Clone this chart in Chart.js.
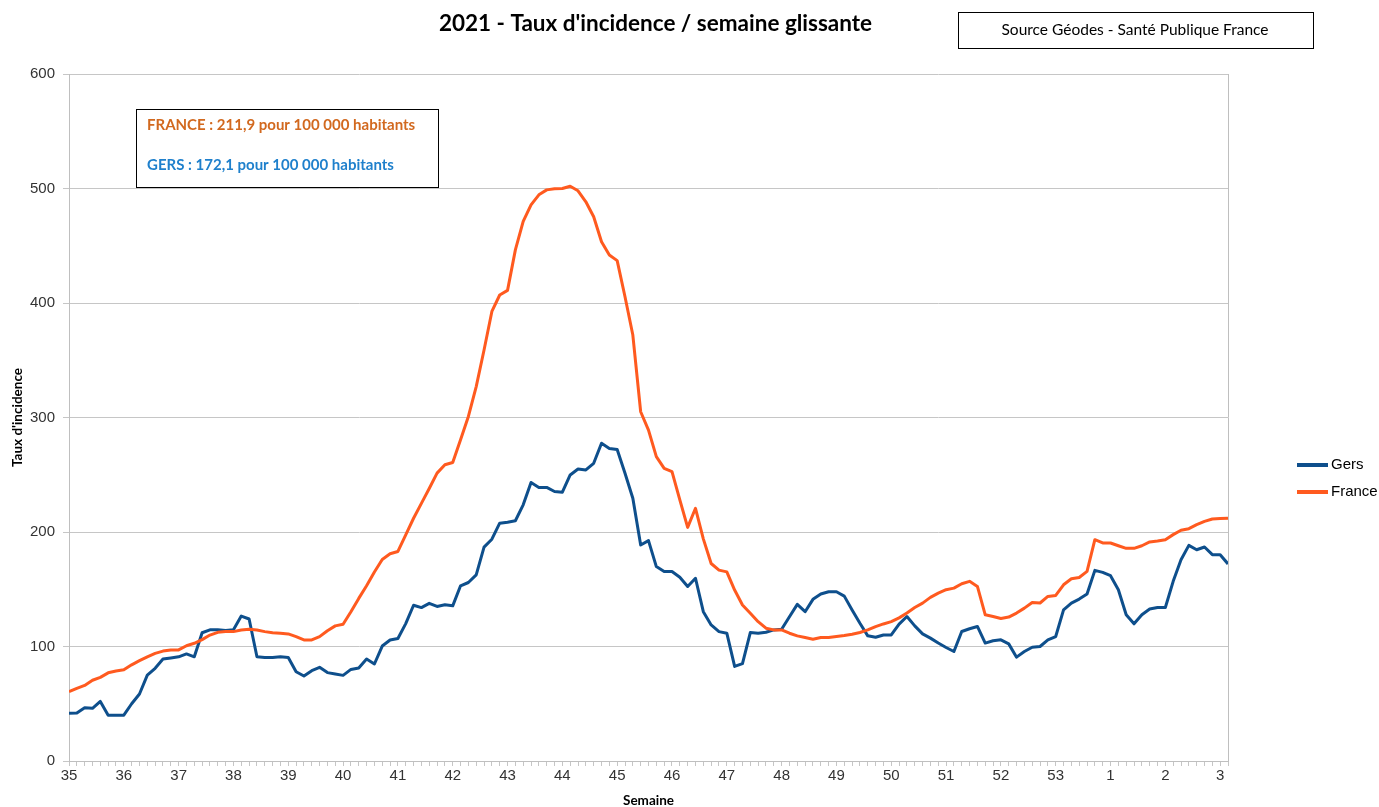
<!DOCTYPE html>
<html><head><meta charset="utf-8">
<script src="https://cdn.jsdelivr.net/npm/chart.js@4"></script>
<style>html,body{margin:0;padding:0;background:#fff;} #wrap{width:1379px;height:807px;}</style>
</head><body><div id="wrap"><canvas id="c" width="1379" height="807"></canvas></div>
<script>
const weekLabels = ['35','36','37','38','39','40','41','42','43','44','45','46','47','48','49','50','51','52','53','1','2','3'];
const seriesNames = ['Gers', 'France'];
const gers = [
 41.6,42,46.6,46,52,40,40, 40,50,58.5,75,81,89,90, 91,93.5,91,112,114.6,114.6,114, 114.6,126.6,124,91,90.4,90.4,91,
 90.4,78,74.2,78.9,81.8,77.2,76, 74.8,80,81.2,89,84.7,100.4,105.7, 107,120,136,134,137.7,135,136.4,
 135.5,153,155.9,162.6,186.8,193.7,207.7, 208.6,209.8,223.7,243.2,238.9,238.9,235.4, 234.8,249.8,255,254.2,260,277.5,273,
 272,251.3,229.5,188.7,192.5,169.8,165.5, 165.5,160.5,152.4,159.6,130.4,118.8,113, 111.6,82.6,85,112.2,111.6,112.5,114.5,
 115,126,136.8,130.4,141.2,145.8,147.8, 147.8,144,131.9,120.3,109.3,108.1,110.1, 110.1,119.5,126.2,118,111,107.3,103,
 99.1,95.6,113.1,115.5,117.5,103,105, 105.8,102.3,90.7,95.6,99.4,100,105.8, 108.7,132,137.9,141.4,145.8,166.5,164.7,
 161.8,149.6,127.7,119.8,127.7,132.7,134.1, 134.1,156.9,175.8,188.3,184.5,186.9,180.2, 180.2,172.1
];
const france = [
 60.5,63.5,66,70.5,73,77,78.6, 79.6,84,87.6,91,94,96,97, 97,100.7,102.8,106,110,112.4,113, 113,114.4,115,114.4,113,112,111.5,
 111,108.6,105.7,105.7,108.6,113.8,118, 119.4,130.4,142,153,165,176,181, 183,197.5,212,225,238,251.4,258.7,
 260.7,280.5,300.9,327,359,392.6,407, 411,446.4,471.2,485.7,494.5,498.8,499.7, 500,502,498,488.4,475.3,453.5,441.9,
 437,405.5,372,305,289,265.8,255.6, 252.7,228,204,220.7,194,172.5,166.7, 165.2,149.3,136.2,129,121.7,116,114.5,
 114.5,111.6,109.3,107.8,106.4,107.8,107.8, 108.7,109.6,110.7,112.2,114.5,117.4,119.7, 121.7,125,129.2,134,137.9,142.9,146.6,
 149.6,151,154.8,156.9,152.5,127.7,126.2, 124.5,125.7,129.2,133.5,138.5,138,143.7, 144.6,153.9,159.2,160.3,165.6,193.3,190.4,
 190.4,188,185.7,185.7,188,191.3,192.2, 193.3,197.7,201.5,202.9,206.4,209.3,211.4, 211.7,212
];
const yMin = 0, yMax = 600, yStep = 100;
const titleText = "2021 - Taux d'incidence / semaine glissante";
const sourceText = 'Source Géodes - Santé Publique France';
const noteFrance = 'FRANCE : 211,9 pour 100 000 habitants';
const noteGers = 'GERS : 172,1 pour 100 000 habitants';
const xTitle = 'Semaine';
const yTitle = "Taux d'incidence";

const GERS_COLOR = '#0e4f8c';
const FRANCE_COLOR = '#ff5a1f';
const GRID = '#c6c6c6';
const TICK_FONT = "'Liberation Sans Narrow', 'Liberation Sans', Arial, sans-serif";

const decor = {
  id: 'decor',
  beforeDatasetsDraw(chart) {
    const {ctx, chartArea: a} = chart;
    ctx.save();
    ctx.strokeStyle = '#bfbfbf';
    ctx.lineWidth = 1;
    ctx.beginPath();
    ctx.moveTo(Math.round(a.right) + 0.5, a.top);
    ctx.lineTo(Math.round(a.right) + 0.5, a.bottom);
    ctx.stroke();
    ctx.restore();
  },
  afterDraw(chart) {
    const ctx = chart.ctx;
    ctx.save();
    ctx.fillStyle = '#000';
    ctx.font = "bold 22.5px Lato";
    ctx.textAlign = 'center';
    ctx.textBaseline = 'middle';
    ctx.fillText(titleText, 655.5, 24);
    ctx.strokeStyle = '#000';
    ctx.lineWidth = 1;
    ctx.strokeRect(958.5, 12.5, 355, 36);
    ctx.font = "15.5px Lato";
    ctx.fillText(sourceText, 1135, 30);
    ctx.fillStyle = '#fff';
    ctx.fillRect(136.5, 109.5, 302, 78);
    ctx.strokeRect(136.5, 109.5, 302, 78);
    ctx.textAlign = 'left';
    ctx.font = "bold 15px Lato";
    ctx.fillStyle = '#d2691f';
    ctx.fillText(noteFrance, 147, 125);
    ctx.fillStyle = '#1f80cc';
    ctx.fillText(noteGers, 147, 165);
    ctx.font = "15px 'Liberation Sans'";
    chart.data.datasets.forEach((ds, i) => {
      const y = 465 + i * 27;
      ctx.strokeStyle = ds.borderColor;
      ctx.lineWidth = 4;
      ctx.beginPath();
      ctx.moveTo(1297, y);
      ctx.lineTo(1328, y);
      ctx.stroke();
      ctx.fillStyle = '#000';
      ctx.fillText(ds.label, 1331, y);
    });
    ctx.restore();
  }
};

new Chart(document.getElementById('c'), {
  type: 'line',
  data: {
    datasets: [
      { label: seriesNames[0], data: gers.map((v, i) => ({x: i, y: v})), borderColor: GERS_COLOR, backgroundColor: GERS_COLOR,
        borderWidth: 3, pointRadius: 0, tension: 0, order: 1, borderJoinStyle: 'round' },
      { label: seriesNames[1], data: france.map((v, i) => ({x: i, y: v})), borderColor: FRANCE_COLOR, backgroundColor: FRANCE_COLOR,
        borderWidth: 3, pointRadius: 0, tension: 0, order: 0, borderJoinStyle: 'round' }
    ]
  },
  options: {
    responsive: false,
    animation: false,
    devicePixelRatio: 1,
    layout: { padding: { top: 74, right: 151, left: 0, bottom: 0 } },
    plugins: { legend: { display: false }, tooltip: { enabled: false }, title: { display: false } },
    scales: {
      x: {
        type: 'linear',
        min: 0,
        max: gers.length - 1,
        afterFit: s => { s.height = 46; },
        ticks: {
          stepSize: 1, autoSkip: false, maxRotation: 0, minRotation: 0, includeBounds: false, padding: 1,
          color: '#333', font: { family: TICK_FONT, size: 15 },
          callback: v => (v % 7 === 0 && weekLabels[v / 7] !== undefined) ? weekLabels[v / 7] : ''
        },
        grid: { drawOnChartArea: false, drawTicks: true, tickLength: 5, color: GRID },
        border: { color: '#bfbfbf' },
        title: { display: true, text: xTitle, color: '#000', font: { family: 'Lato', weight: 'bold', size: 13.5 }, padding: { top: 0, bottom: -2 } }
      },
      y: {
        min: yMin, max: yMax,
        afterFit: s => { s.width = 69; },
        ticks: { stepSize: yStep, padding: 8, color: '#333', font: { family: TICK_FONT, size: 15 } },
        grid: { color: GRID, tickLength: 6, drawTicks: true },
        border: { color: '#bfbfbf' },
        title: { display: true, text: yTitle, color: '#000', font: { family: 'Lato', weight: 'bold', size: 13.5 }, padding: { top: 10, bottom: 0 } }
      }
    }
  },
  plugins: [decor]
});
</script>
</body></html>
